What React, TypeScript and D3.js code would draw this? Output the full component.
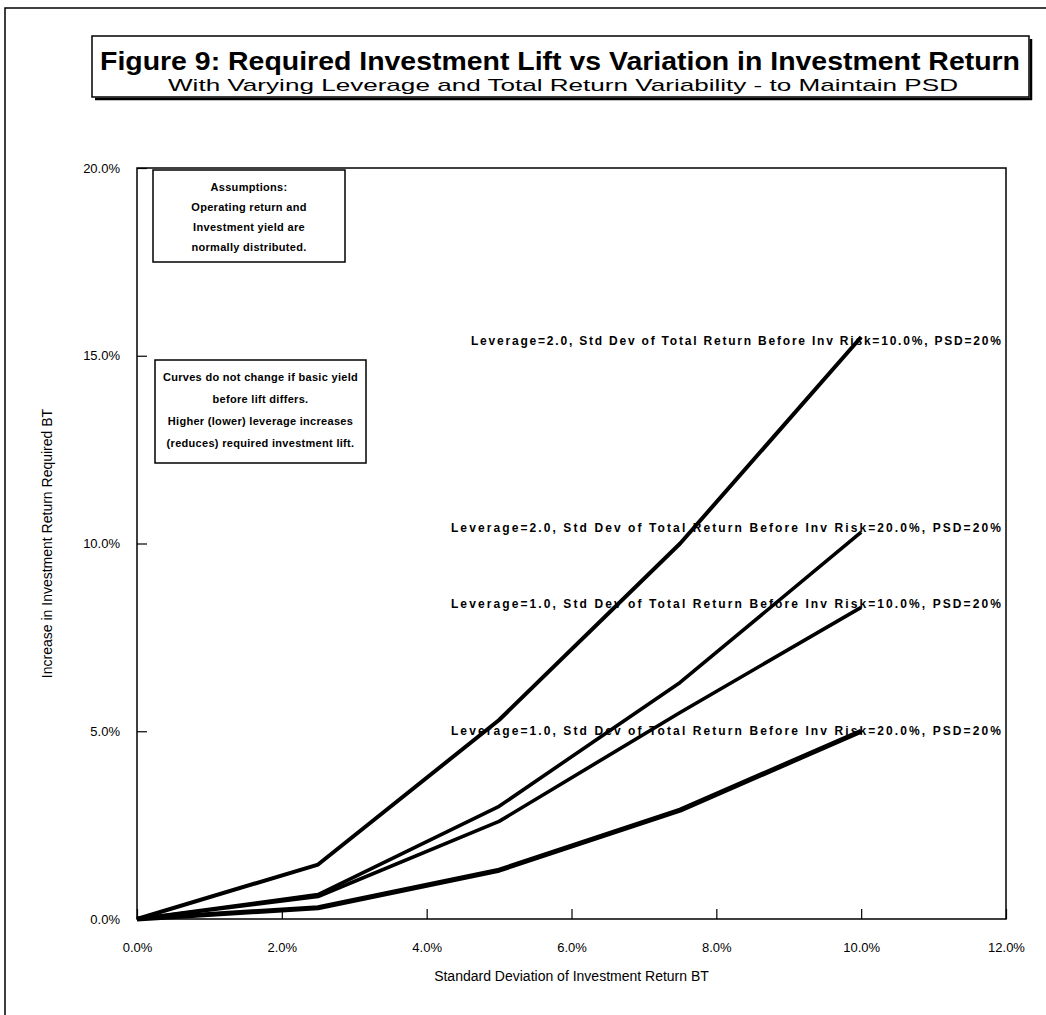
import React, { useEffect, useRef } from 'react';
import * as d3 from 'd3';

// x positions of the computed points (std dev of investment return, %)
const stdDevPoints = [0, 2.5, 5, 7.5, 10];

const lev2Sd10 = [0, 1.45, 5.3, 10.0, 15.5];
const lev2Sd20 = [0, 0.65, 3.0, 6.3, 10.3];
const lev1Sd10 = [0, 0.6, 2.6, 5.5, 8.3];
const lev1Sd20 = [0, 0.3, 1.3, 2.9, 5.0];

const seriesLabels = [
  'Leverage=2.0, Std Dev of Total Return Before Inv Risk=10.0%, PSD=20%',
  'Leverage=2.0, Std Dev of Total Return Before Inv Risk=20.0%, PSD=20%',
  'Leverage=1.0, Std Dev of Total Return Before Inv Risk=10.0%, PSD=20%',
  'Leverage=1.0, Std Dev of Total Return Before Inv Risk=20.0%, PSD=20%',
];
// value each label sits at (roughly the curve end)
const labelLevels = [15.4, 10.4, 8.4, 5.0];

const xTicks = [0, 2, 4, 6, 8, 10, 12];
const yTicks = [0, 5, 10, 15, 20];

const assumptionLines = ['Assumptions:', 'Operating return and', 'Investment yield are', 'normally distributed.'];
const curveNoteLines = [
  'Curves do not change if basic yield',
  'before lift differs.',
  'Higher (lower) leverage increases',
  '(reduces) required investment lift.',
];

const FONT = '"Liberation Sans", Arial, sans-serif';

const App = () => {
  const svgRef = useRef<SVGSVGElement>(null);
  const width = 1046;
  const height = 1015;

  useEffect(() => {
    const svg = d3.select(svgRef.current);
    svg.selectAll('*').remove();

    const plot = { left: 137, right: 1006, top: 168, bottom: 919 };

    const x = d3.scaleLinear().domain([0, 12]).range([plot.left, plot.right]);
    const y = d3.scaleLinear().domain([0, 20]).range([plot.bottom, plot.top]);

    svg.append('rect').attr('width', width).attr('height', height).attr('fill', '#fff');

    // outer frame (runs off the right and bottom of the picture)
    svg.append('rect')
      .attr('x', 5).attr('y', 8)
      .attr('width', width + 20).attr('height', height + 20)
      .attr('fill', 'none').attr('stroke', '#000').attr('stroke-width', 1.5);

    // title box with its shadow
    svg.append('rect')
      .attr('x', 92).attr('y', 36).attr('width', 937).attr('height', 61)
      .attr('fill', '#fff').attr('stroke', '#000').attr('stroke-width', 1.5);
    svg.append('line')
      .attr('x1', 95).attr('x2', 1032).attr('y1', 99).attr('y2', 99)
      .attr('stroke', '#000').attr('stroke-width', 2.5);
    svg.append('line')
      .attr('x1', 1031).attr('x2', 1031).attr('y1', 39).attr('y2', 100)
      .attr('stroke', '#000').attr('stroke-width', 2.5);
    svg.append('text')
      .attr('x', 560).attr('y', 70)
      .attr('text-anchor', 'middle')
      .attr('font-family', FONT).attr('font-weight', 'bold').attr('font-size', 25)
      .attr('textLength', 920).attr('lengthAdjust', 'spacingAndGlyphs')
      .text('Figure 9:  Required Investment Lift vs Variation in Investment Return');
    svg.append('text')
      .attr('x', 563).attr('y', 91)
      .attr('text-anchor', 'middle')
      .attr('font-family', FONT).attr('font-size', 17)
      .attr('textLength', 790).attr('lengthAdjust', 'spacingAndGlyphs')
      .text('With Varying Leverage and Total Return Variability - to Maintain PSD');

    // plot border
    svg.append('rect')
      .attr('x', plot.left).attr('y', plot.top)
      .attr('width', plot.right - plot.left).attr('height', plot.bottom - plot.top)
      .attr('fill', 'none').attr('stroke', '#000').attr('stroke-width', 1.5);

    const xAxis = d3.axisBottom(x)
      .tickValues(xTicks)
      .tickSize(-10)
      .tickPadding(24)
      .tickFormat(d => `${(+d).toFixed(1)}%`);
    svg.append('g')
      .attr('transform', `translate(0, ${plot.bottom})`)
      .call(xAxis)
      .call(g => g.select('.domain').remove())
      .call(g => g.selectAll('.tick line').attr('stroke-width', 1.2))
      .call(g => g.selectAll('.tick text')
        .attr('font-family', FONT).attr('font-size', 13).attr('fill', '#000'));

    const yAxis = d3.axisLeft(y)
      .tickValues(yTicks)
      .tickSize(-10)
      .tickPadding(17)
      .tickFormat(d => `${(+d).toFixed(1)}%`);
    svg.append('g')
      .attr('transform', `translate(${plot.left}, 0)`)
      .call(yAxis)
      .call(g => g.select('.domain').remove())
      .call(g => g.selectAll('.tick line').attr('stroke-width', 1.2))
      .call(g => g.selectAll('.tick text')
        .attr('font-family', FONT).attr('font-size', 13).attr('fill', '#000'));

    svg.append('text')
      .attr('x', (plot.left + plot.right) / 2).attr('y', 981)
      .attr('text-anchor', 'middle')
      .attr('font-family', FONT).attr('font-size', 14)
      .text('Standard Deviation of Investment Return BT');

    svg.append('text')
      .attr('transform', `translate(52, ${(plot.top + plot.bottom) / 2}) rotate(-90)`)
      .attr('text-anchor', 'middle')
      .attr('font-family', FONT).attr('font-size', 14)
      .text('Increase in Investment Return Required BT');

    // curves
    const series = [lev2Sd10, lev2Sd20, lev1Sd10, lev1Sd20];
    const widths = [4, 3.6, 3.6, 5];
    const line = d3.line<number>()
      .x((_, i) => x(stdDevPoints[i]))
      .y(d => y(d));

    svg.selectAll('.curve')
      .data(series)
      .join('path')
      .attr('class', 'curve')
      .attr('d', d => line(d))
      .attr('fill', 'none')
      .attr('stroke', '#000')
      .attr('stroke-width', (_, i) => widths[i])
      .attr('stroke-linejoin', 'round');

    svg.selectAll('.series-label')
      .data(seriesLabels)
      .join('text')
      .attr('class', 'series-label')
      .attr('x', x(11.93))
      .attr('y', (_, i) => y(labelLevels[i]) + 4)
      .attr('text-anchor', 'end')
      .attr('font-family', FONT).attr('font-weight', 'bold').attr('font-size', 12)
      .attr('textLength', (_, i) => (i === 0 ? 530 : 550)).attr('lengthAdjust', 'spacing')
      .text(d => d);

    // annotation boxes
    const notes = [
      { lines: assumptionLines, x: 153, y: 170, w: 192, h: 92, first: 191, step: 20 },
      { lines: curveNoteLines, x: 155, y: 360, w: 211, h: 103, first: 381, step: 22 },
    ];
    notes.forEach(n => {
      svg.append('rect')
        .attr('x', n.x).attr('y', n.y).attr('width', n.w).attr('height', n.h)
        .attr('fill', '#fff').attr('stroke', '#000').attr('stroke-width', 1.5);
      svg.append('g')
        .selectAll('text')
        .data(n.lines)
        .join('text')
        .attr('x', n.x + n.w / 2)
        .attr('y', (_, i) => n.first + i * n.step)
        .attr('text-anchor', 'middle')
        .attr('font-family', FONT).attr('font-weight', 'bold').attr('font-size', 11)
        .attr('letter-spacing', 0.3)
        .text(d => d);
    });
  }, []);

  return (
    <div style={{ position: 'absolute', left: 0, top: 0, width, height }}>
      <svg ref={svgRef} width={width} height={height}></svg>
    </div>
  );
};

export default App;
